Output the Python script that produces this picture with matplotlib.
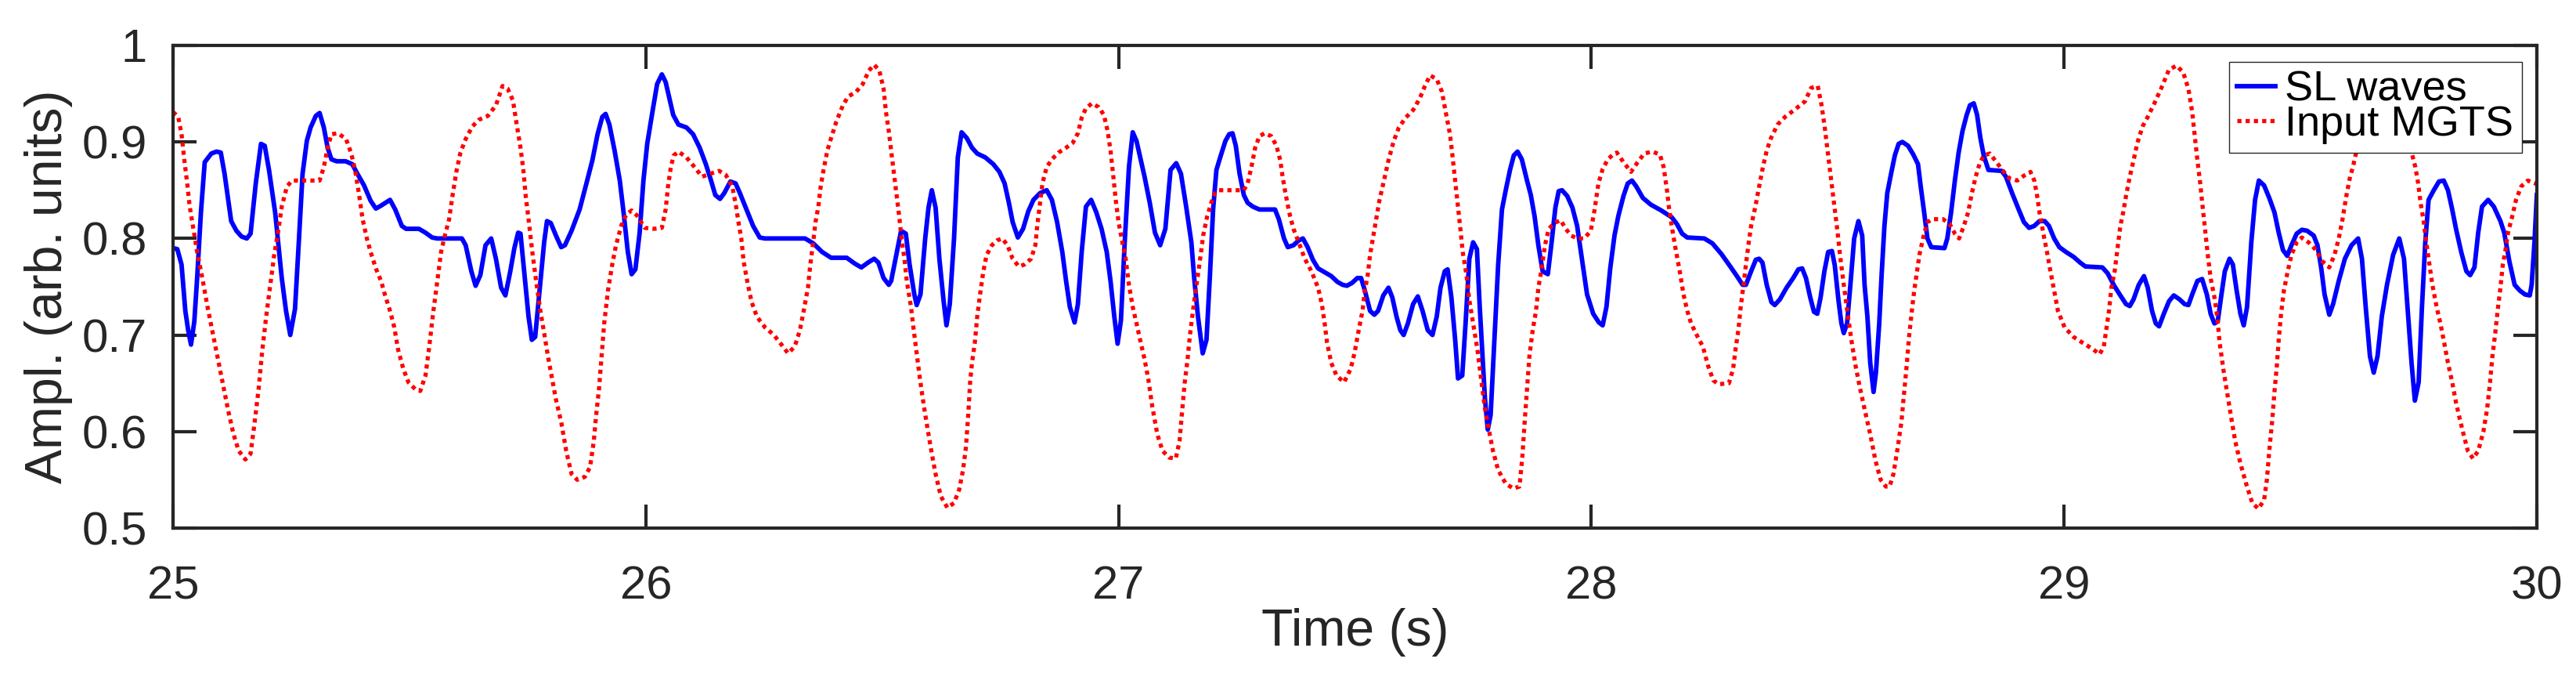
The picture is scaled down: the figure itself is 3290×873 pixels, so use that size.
import matplotlib
matplotlib.use("Agg")
import matplotlib.pyplot as plt

plt.rcParams['font.family'] = ['Liberation Sans', 'DejaVu Sans']

# SL waves (blue, solid)
sl_t = [25.000, 25.009, 25.018, 25.026, 25.032, 25.038, 25.045, 25.051, 25.059, 25.067,
        25.081, 25.092, 25.101, 25.109, 25.123, 25.134, 25.145, 25.156, 25.164, 25.175,
        25.186, 25.194, 25.203, 25.216, 25.230, 25.239, 25.248, 25.258, 25.266, 25.274,
        25.283, 25.291, 25.302, 25.310, 25.319, 25.327, 25.335, 25.346, 25.365, 25.379,
        25.390, 25.404, 25.418, 25.429, 25.440, 25.459, 25.470, 25.484, 25.493, 25.520,
        25.534, 25.548, 25.559, 25.611, 25.619, 25.631, 25.640, 25.650, 25.661, 25.673,
        25.683, 25.694, 25.703, 25.713, 25.722, 25.730, 25.735, 25.744, 25.752, 25.759,
        25.766, 25.774, 25.785, 25.791, 25.799, 25.810, 25.821, 25.829, 25.843, 25.860,
        25.876, 25.887, 25.898, 25.908, 25.915, 25.923, 25.934, 25.945, 25.953, 25.962,
        25.970, 25.978, 25.987, 25.995, 26.003, 26.014, 26.024, 26.034, 26.042, 26.050,
        26.058, 26.069, 26.086, 26.100, 26.114, 26.127, 26.138, 26.147, 26.157, 26.166,
        26.179, 26.190, 26.199, 26.213, 26.227, 26.241, 26.252, 26.337, 26.354, 26.373,
        26.392, 26.425, 26.442, 26.456, 26.470, 26.483, 26.492, 26.503, 26.514, 26.519,
        26.530, 26.540, 26.550, 26.558, 26.568, 26.573, 26.581, 26.591, 26.598, 26.605,
        26.613, 26.621, 26.630, 26.636, 26.643, 26.652, 26.660, 26.668, 26.679, 26.690,
        26.701, 26.718, 26.735, 26.748, 26.759, 26.768, 26.776, 26.787, 26.798, 26.809,
        26.820, 26.834, 26.848, 26.859, 26.870, 26.881, 26.889, 26.897, 26.907, 26.914,
        26.922, 26.931, 26.942, 26.953, 26.964, 26.975, 26.983, 26.991, 26.998, 27.005,
        27.013, 27.022, 27.030, 27.038, 27.055, 27.066, 27.077, 27.088, 27.099, 27.110,
        27.122, 27.132, 27.143, 27.154, 27.160, 27.168, 27.178, 27.186, 27.193, 27.200,
        27.207, 27.215, 27.226, 27.234, 27.241, 27.248, 27.256, 27.265, 27.273, 27.284,
        27.298, 27.331, 27.339, 27.350, 27.358, 27.370, 27.381, 27.390, 27.400, 27.411,
        27.422, 27.436, 27.450, 27.463, 27.474, 27.483, 27.494, 27.505, 27.513, 27.521,
        27.532, 27.541, 27.549, 27.560, 27.571, 27.579, 27.588, 27.596, 27.603, 27.612,
        27.623, 27.633, 27.643, 27.654, 27.664, 27.673, 27.681, 27.690, 27.696, 27.704,
        27.712, 27.718, 27.727, 27.734, 27.742, 27.750, 27.758, 27.764, 27.770, 27.775,
        27.781, 27.787, 27.795, 27.803, 27.811, 27.819, 27.828, 27.836, 27.844, 27.853,
        27.864, 27.872, 27.880, 27.888, 27.897, 27.908, 27.916, 27.924, 27.931, 27.938,
        27.949, 27.960, 27.970, 27.980, 27.991, 28.004, 28.016, 28.024, 28.032, 28.040,
        28.049, 28.057, 28.068, 28.077, 28.086, 28.095, 28.109, 28.126, 28.148, 28.170,
        28.181, 28.192, 28.203, 28.239, 28.256, 28.275, 28.291, 28.308, 28.320, 28.327,
        28.338, 28.348, 28.355, 28.362, 28.371, 28.381, 28.388, 28.399, 28.413, 28.427,
        28.438, 28.446, 28.454, 28.463, 28.471, 28.478, 28.485, 28.493, 28.501, 28.509,
        28.515, 28.523, 28.529, 28.534, 28.541, 28.548, 28.556, 28.565, 28.573, 28.578,
        28.584, 28.590, 28.597, 28.602, 28.609, 28.614, 28.620, 28.626, 28.634, 28.642,
        28.650, 28.658, 28.670, 28.681, 28.691, 28.697, 28.704, 28.711, 28.719, 28.747,
        28.753, 28.761, 28.769, 28.777, 28.785, 28.794, 28.801, 28.809, 28.816, 28.823,
        28.830, 28.840, 28.868, 28.877, 28.890, 28.904, 28.915, 28.926, 28.937, 28.948,
        28.959, 28.968, 28.979, 28.990, 29.004, 29.020, 29.034, 29.045, 29.081, 29.092,
        29.106, 29.119, 29.131, 29.139, 29.147, 29.158, 29.169, 29.177, 29.186, 29.194,
        29.201, 29.211, 29.222, 29.232, 29.244, 29.255, 29.263, 29.271, 29.282, 29.292,
        29.302, 29.310, 29.318, 29.325, 29.332, 29.340, 29.350, 29.357, 29.365, 29.373,
        29.380, 29.387, 29.396, 29.404, 29.412, 29.423, 29.434, 29.445, 29.454, 29.463,
        29.472, 29.481, 29.492, 29.503, 29.514, 29.528, 29.536, 29.544, 29.551, 29.561,
        29.569, 29.581, 29.594, 29.608, 29.622, 29.630, 29.638, 29.647, 29.655, 29.663,
        29.672, 29.683, 29.696, 29.709, 29.719, 29.727, 29.735, 29.742, 29.750, 29.757,
        29.764, 29.771, 29.782, 29.793, 29.803, 29.812, 29.821, 29.829, 29.840, 29.851,
        29.859, 29.868, 29.876, 29.884, 29.897, 29.909, 29.923, 29.931, 29.942, 29.953,
        29.964, 29.975, 29.985, 29.989, 29.995, 30.000]
sl_v = [0.790, 0.789, 0.773, 0.725, 0.705, 0.690, 0.714, 0.759, 0.827, 0.879,
        0.888, 0.890, 0.889, 0.867, 0.818, 0.808, 0.802, 0.800, 0.805, 0.857,
        0.898, 0.896, 0.871, 0.827, 0.759, 0.725, 0.700, 0.727, 0.796, 0.867,
        0.901, 0.915, 0.927, 0.930, 0.915, 0.894, 0.882, 0.880, 0.880, 0.877,
        0.867, 0.855, 0.839, 0.831, 0.834, 0.840, 0.830, 0.813, 0.810, 0.810,
        0.806, 0.801, 0.800, 0.800, 0.793, 0.766, 0.751, 0.762, 0.793, 0.800,
        0.779, 0.749, 0.741, 0.765, 0.790, 0.806, 0.805, 0.759, 0.719, 0.695,
        0.698, 0.739, 0.796, 0.818, 0.816, 0.803, 0.791, 0.793, 0.808, 0.830,
        0.860, 0.881, 0.908, 0.926, 0.929, 0.918, 0.891, 0.860, 0.827, 0.786,
        0.763, 0.768, 0.806, 0.860, 0.898, 0.931, 0.960, 0.970, 0.962, 0.945,
        0.928, 0.918, 0.915, 0.908, 0.894, 0.877, 0.860, 0.845, 0.841, 0.847,
        0.859, 0.857, 0.847, 0.830, 0.813, 0.801, 0.800, 0.800, 0.795, 0.786,
        0.780, 0.780, 0.774, 0.770, 0.775, 0.779, 0.775, 0.759, 0.752, 0.756,
        0.783, 0.808, 0.805, 0.773, 0.742, 0.731, 0.742, 0.800, 0.832, 0.850,
        0.832, 0.779, 0.735, 0.710, 0.732, 0.800, 0.884, 0.910, 0.904, 0.894,
        0.888, 0.884, 0.877, 0.869, 0.857, 0.837, 0.817, 0.801, 0.810, 0.828,
        0.840, 0.847, 0.850, 0.840, 0.817, 0.786, 0.756, 0.729, 0.713, 0.732,
        0.786, 0.833, 0.840, 0.827, 0.810, 0.786, 0.756, 0.719, 0.691, 0.715,
        0.796, 0.874, 0.910, 0.901, 0.864, 0.837, 0.806, 0.793, 0.810, 0.871,
        0.878, 0.867, 0.833, 0.796, 0.759, 0.719, 0.681, 0.695, 0.759, 0.830,
        0.871, 0.884, 0.901, 0.908, 0.909, 0.896, 0.867, 0.845, 0.837, 0.833,
        0.830, 0.830, 0.820, 0.800, 0.791, 0.793, 0.798, 0.800, 0.791, 0.778,
        0.769, 0.765, 0.761, 0.755, 0.752, 0.751, 0.754, 0.759, 0.759, 0.746,
        0.725, 0.721, 0.725, 0.741, 0.749, 0.739, 0.719, 0.705, 0.700, 0.712,
        0.732, 0.740, 0.725, 0.705, 0.700, 0.719, 0.749, 0.766, 0.768, 0.739,
        0.695, 0.655, 0.658, 0.712, 0.779, 0.796, 0.789, 0.729, 0.678, 0.634,
        0.602, 0.617, 0.695, 0.773, 0.830, 0.850, 0.871, 0.886, 0.890, 0.882,
        0.860, 0.845, 0.823, 0.793, 0.766, 0.763, 0.796, 0.832, 0.849, 0.850,
        0.844, 0.832, 0.813, 0.779, 0.742, 0.722, 0.713, 0.710, 0.729, 0.769,
        0.803, 0.823, 0.844, 0.857, 0.860, 0.854, 0.842, 0.835, 0.829, 0.822,
        0.815, 0.805, 0.801, 0.800, 0.795, 0.784, 0.773, 0.761, 0.752, 0.752,
        0.766, 0.778, 0.779, 0.775, 0.752, 0.734, 0.731, 0.737, 0.749, 0.759,
        0.768, 0.769, 0.759, 0.739, 0.724, 0.722, 0.739, 0.766, 0.786, 0.787,
        0.772, 0.735, 0.712, 0.702, 0.712, 0.752, 0.800, 0.818, 0.803, 0.752,
        0.719, 0.671, 0.641, 0.661, 0.712, 0.762, 0.813, 0.847, 0.867, 0.886,
        0.898, 0.900, 0.896, 0.887, 0.877, 0.853, 0.827, 0.800, 0.791, 0.790,
        0.800, 0.827, 0.860, 0.889, 0.911, 0.928, 0.938, 0.940, 0.928, 0.904,
        0.886, 0.871, 0.870, 0.864, 0.847, 0.830, 0.817, 0.811, 0.813, 0.818,
        0.818, 0.813, 0.800, 0.791, 0.786, 0.781, 0.775, 0.771, 0.770, 0.764,
        0.751, 0.741, 0.732, 0.730, 0.737, 0.752, 0.761, 0.749, 0.725, 0.712,
        0.709, 0.722, 0.735, 0.741, 0.737, 0.732, 0.731, 0.742, 0.756, 0.758,
        0.742, 0.722, 0.712, 0.714, 0.739, 0.766, 0.779, 0.773, 0.746, 0.722,
        0.710, 0.729, 0.796, 0.840, 0.860, 0.855, 0.842, 0.827, 0.806, 0.788,
        0.782, 0.793, 0.805, 0.809, 0.808, 0.803, 0.793, 0.769, 0.742, 0.721,
        0.732, 0.756, 0.779, 0.793, 0.800, 0.779, 0.729, 0.678, 0.661, 0.678,
        0.719, 0.752, 0.783, 0.800, 0.779, 0.725, 0.671, 0.632, 0.651, 0.729,
        0.796, 0.840, 0.850, 0.859, 0.860, 0.850, 0.830, 0.810, 0.786, 0.766,
        0.762, 0.770, 0.806, 0.833, 0.840, 0.833, 0.818, 0.806, 0.776, 0.752,
        0.746, 0.742, 0.741, 0.752, 0.796, 0.845]

# Input MGTS (red, dotted)
mg_t = [25.000, 25.011, 25.018, 25.024, 25.030, 25.035, 25.043, 25.051, 25.062, 25.073,
        25.084, 25.095, 25.106, 25.117, 25.128, 25.139, 25.153, 25.164, 25.172, 25.181,
        25.189, 25.197, 25.205, 25.214, 25.222, 25.230, 25.241, 25.252, 25.277, 25.310,
        25.319, 25.327, 25.335, 25.349, 25.366, 25.377, 25.385, 25.393, 25.401, 25.410,
        25.418, 25.429, 25.440, 25.448, 25.459, 25.468, 25.476, 25.487, 25.498, 25.512,
        25.523, 25.534, 25.542, 25.550, 25.559, 25.567, 25.575, 25.584, 25.592, 25.600,
        25.608, 25.619, 25.633, 25.647, 25.666, 25.683, 25.697, 25.708, 25.719, 25.727,
        25.735, 25.741, 25.746, 25.752, 25.760, 25.768, 25.777, 25.785, 25.793, 25.802,
        25.810, 25.821, 25.832, 25.843, 25.855, 25.871, 25.882, 25.890, 25.895, 25.901,
        25.907, 25.912, 25.920, 25.929, 25.937, 25.948, 25.959, 25.970, 25.981, 25.998,
        26.017, 26.034, 26.042, 26.047, 26.053, 26.059, 26.069, 26.086, 26.103, 26.119,
        26.136, 26.155, 26.169, 26.183, 26.191, 26.196, 26.202, 26.207, 26.216, 26.224,
        26.235, 26.252, 26.271, 26.287, 26.301, 26.315, 26.326, 26.334, 26.343, 26.348,
        26.354, 26.359, 26.365, 26.370, 26.376, 26.384, 26.392, 26.403, 26.417, 26.428,
        26.445, 26.459, 26.472, 26.483, 26.494, 26.503, 26.508, 26.514, 26.519, 26.525,
        26.530, 26.536, 26.541, 26.547, 26.552, 26.561, 26.566, 26.573, 26.580, 26.588,
        26.597, 26.605, 26.613, 26.624, 26.638, 26.652, 26.663, 26.671, 26.677, 26.682,
        26.686, 26.690, 26.696, 26.701, 26.707, 26.714, 26.721, 26.732, 26.743, 26.754,
        26.765, 26.776, 26.789, 26.801, 26.815, 26.824, 26.828, 26.834, 26.839, 26.848,
        26.859, 26.873, 26.889, 26.903, 26.914, 26.922, 26.931, 26.944, 26.958, 26.969,
        26.977, 26.983, 26.989, 26.994, 27.000, 27.008, 27.015, 27.022, 27.030, 27.038,
        27.047, 27.055, 27.063, 27.071, 27.082, 27.093, 27.107, 27.121, 27.129, 27.135,
        27.140, 27.146, 27.151, 27.160, 27.171, 27.179, 27.187, 27.196, 27.204, 27.212,
        27.265, 27.273, 27.281, 27.289, 27.298, 27.309, 27.323, 27.334, 27.342, 27.347,
        27.353, 27.361, 27.370, 27.381, 27.394, 27.408, 27.422, 27.430, 27.436, 27.441,
        27.450, 27.461, 27.477, 27.491, 27.499, 27.508, 27.516, 27.521, 27.527, 27.532,
        27.538, 27.545, 27.552, 27.560, 27.571, 27.582, 27.593, 27.607, 27.623, 27.637,
        27.648, 27.659, 27.673, 27.684, 27.692, 27.701, 27.706, 27.712, 27.717, 27.723,
        27.728, 27.736, 27.742, 27.750, 27.759, 27.767, 27.775, 27.784, 27.792, 27.803,
        27.819, 27.835, 27.848, 27.854, 27.859, 27.864, 27.869, 27.876, 27.883, 27.888,
        27.894, 27.902, 27.910, 27.922, 27.935, 27.946, 27.957, 27.971, 27.985, 27.999,
        28.007, 28.015, 28.024, 28.035, 28.046, 28.054, 28.068, 28.084, 28.098, 28.112,
        28.129, 28.145, 28.153, 28.160, 28.164, 28.170, 28.178, 28.187, 28.195, 28.203,
        28.211, 28.225, 28.236, 28.247, 28.258, 28.269, 28.291, 28.300, 28.305, 28.311,
        28.316, 28.322, 28.327, 28.333, 28.338, 28.347, 28.355, 28.363, 28.371, 28.380,
        28.394, 28.410, 28.429, 28.452, 28.465, 28.479, 28.487, 28.493, 28.498, 28.504,
        28.509, 28.515, 28.521, 28.526, 28.534, 28.543, 28.551, 28.559, 28.567, 28.579,
        28.590, 28.601, 28.612, 28.623, 28.631, 28.639, 28.647, 28.656, 28.661, 28.667,
        28.672, 28.678, 28.683, 28.689, 28.694, 28.703, 28.711, 28.722, 28.744, 28.758,
        28.769, 28.778, 28.788, 28.797, 28.805, 28.813, 28.821, 28.830, 28.843, 28.857,
        28.871, 28.885, 28.901, 28.915, 28.929, 28.937, 28.943, 28.948, 28.957, 28.965,
        28.970, 28.979, 28.987, 29.001, 29.020, 29.039, 29.062, 29.075, 29.084, 29.089,
        29.095, 29.100, 29.107, 29.114, 29.119, 29.125, 29.131, 29.139, 29.147, 29.155,
        29.166, 29.177, 29.191, 29.205, 29.222, 29.238, 29.252, 29.263, 29.271, 29.277,
        29.282, 29.288, 29.293, 29.299, 29.304, 29.310, 29.318, 29.324, 29.329, 29.338,
        29.346, 29.354, 29.362, 29.373, 29.385, 29.398, 29.411, 29.423, 29.429, 29.434,
        29.440, 29.445, 29.450, 29.454, 29.459, 29.465, 29.473, 29.481, 29.492, 29.503,
        29.517, 29.531, 29.547, 29.561, 29.572, 29.581, 29.589, 29.597, 29.605, 29.611,
        29.625, 29.645, 29.670, 29.695, 29.715, 29.732, 29.743, 29.749, 29.754, 29.760,
        29.765, 29.771, 29.779, 29.788, 29.796, 29.804, 29.812, 29.821, 29.829, 29.837,
        29.845, 29.854, 29.865, 29.876, 29.887, 29.895, 29.901, 29.906, 29.912, 29.917,
        29.923, 29.928, 29.934, 29.939, 29.948, 29.956, 29.967, 29.981, 29.997, 30.000]
mg_v = [0.931, 0.926, 0.908, 0.881, 0.857, 0.834, 0.810, 0.786, 0.759, 0.729,
        0.702, 0.675, 0.648, 0.621, 0.597, 0.580, 0.571, 0.577, 0.607, 0.644,
        0.685, 0.719, 0.749, 0.783, 0.806, 0.833, 0.854, 0.860, 0.860, 0.860,
        0.874, 0.894, 0.908, 0.909, 0.903, 0.888, 0.871, 0.847, 0.820, 0.800,
        0.786, 0.769, 0.756, 0.742, 0.725, 0.708, 0.685, 0.665, 0.651, 0.644,
        0.642, 0.658, 0.688, 0.722, 0.756, 0.786, 0.803, 0.820, 0.847, 0.871,
        0.889, 0.903, 0.916, 0.923, 0.927, 0.938, 0.958, 0.955, 0.943, 0.918,
        0.894, 0.871, 0.844, 0.820, 0.786, 0.756, 0.725, 0.702, 0.678, 0.654,
        0.633, 0.610, 0.579, 0.556, 0.550, 0.553, 0.563, 0.590, 0.617, 0.644,
        0.681, 0.712, 0.746, 0.773, 0.793, 0.813, 0.825, 0.829, 0.824, 0.811,
        0.810, 0.811, 0.830, 0.854, 0.874, 0.886, 0.890, 0.884, 0.874, 0.864,
        0.867, 0.870, 0.866, 0.854, 0.833, 0.817, 0.800, 0.776, 0.752, 0.734,
        0.719, 0.708, 0.700, 0.690, 0.681, 0.688, 0.705, 0.725, 0.749, 0.773,
        0.796, 0.817, 0.833, 0.854, 0.871, 0.891, 0.904, 0.921, 0.938, 0.947,
        0.952, 0.960, 0.974, 0.980, 0.974, 0.955, 0.931, 0.911, 0.891, 0.867,
        0.847, 0.823, 0.800, 0.779, 0.756, 0.729, 0.708, 0.681, 0.654, 0.627,
        0.600, 0.577, 0.556, 0.533, 0.521, 0.526, 0.540, 0.560, 0.583, 0.617,
        0.651, 0.671, 0.692, 0.719, 0.742, 0.766, 0.783, 0.793, 0.798, 0.800,
        0.793, 0.779, 0.771, 0.773, 0.779, 0.793, 0.813, 0.837, 0.857, 0.874,
        0.882, 0.889, 0.894, 0.899, 0.909, 0.925, 0.935, 0.940, 0.936, 0.928,
        0.911, 0.891, 0.864, 0.840, 0.817, 0.796, 0.779, 0.752, 0.729, 0.712,
        0.692, 0.675, 0.654, 0.627, 0.597, 0.580, 0.573, 0.572, 0.590, 0.624,
        0.651, 0.675, 0.700, 0.735, 0.773, 0.803, 0.822, 0.837, 0.847, 0.850,
        0.850, 0.857, 0.874, 0.894, 0.906, 0.909, 0.906, 0.896, 0.881, 0.864,
        0.847, 0.827, 0.810, 0.796, 0.779, 0.766, 0.749, 0.732, 0.712, 0.692,
        0.671, 0.658, 0.651, 0.665, 0.681, 0.705, 0.725, 0.746, 0.762, 0.783,
        0.800, 0.820, 0.840, 0.857, 0.881, 0.901, 0.915, 0.925, 0.933, 0.945,
        0.958, 0.969, 0.965, 0.952, 0.931, 0.908, 0.887, 0.860, 0.837, 0.810,
        0.786, 0.762, 0.736, 0.712, 0.685, 0.654, 0.624, 0.600, 0.580, 0.560,
        0.546, 0.541, 0.543, 0.573, 0.610, 0.644, 0.678, 0.705, 0.725, 0.749,
        0.766, 0.793, 0.810, 0.816, 0.819, 0.810, 0.803, 0.800, 0.800, 0.808,
        0.830, 0.857, 0.872, 0.882, 0.887, 0.889, 0.879, 0.869, 0.879, 0.888,
        0.890, 0.887, 0.874, 0.850, 0.833, 0.813, 0.790, 0.766, 0.742, 0.725,
        0.712, 0.698, 0.688, 0.668, 0.653, 0.649, 0.650, 0.665, 0.685, 0.705,
        0.729, 0.752, 0.773, 0.796, 0.813, 0.833, 0.854, 0.874, 0.891, 0.904,
        0.918, 0.926, 0.933, 0.942, 0.956, 0.958, 0.938, 0.918, 0.898, 0.874,
        0.854, 0.830, 0.806, 0.783, 0.752, 0.719, 0.692, 0.668, 0.648, 0.621,
        0.597, 0.570, 0.550, 0.543, 0.543, 0.556, 0.580, 0.610, 0.637, 0.668,
        0.698, 0.725, 0.746, 0.766, 0.783, 0.803, 0.817, 0.820, 0.820, 0.815,
        0.805, 0.800, 0.813, 0.827, 0.847, 0.864, 0.877, 0.886, 0.888, 0.879,
        0.870, 0.862, 0.860, 0.865, 0.869, 0.860, 0.844, 0.827, 0.803, 0.783,
        0.769, 0.746, 0.725, 0.708, 0.698, 0.692, 0.685, 0.680, 0.688, 0.705,
        0.725, 0.749, 0.766, 0.793, 0.813, 0.827, 0.844, 0.864, 0.881, 0.899,
        0.916, 0.926, 0.940, 0.955, 0.975, 0.979, 0.972, 0.955, 0.931, 0.904,
        0.881, 0.857, 0.833, 0.806, 0.783, 0.759, 0.739, 0.719, 0.692, 0.661,
        0.637, 0.613, 0.590, 0.567, 0.546, 0.526, 0.520, 0.529, 0.550, 0.580,
        0.610, 0.641, 0.668, 0.695, 0.722, 0.746, 0.766, 0.783, 0.796, 0.801,
        0.796, 0.789, 0.776, 0.770, 0.783, 0.800, 0.820, 0.844, 0.864, 0.874,
        0.905, 0.935, 0.962, 0.960, 0.935, 0.895, 0.874, 0.857, 0.837, 0.820,
        0.800, 0.779, 0.752, 0.729, 0.712, 0.692, 0.671, 0.651, 0.630, 0.613,
        0.597, 0.580, 0.572, 0.580, 0.600, 0.624, 0.651, 0.678, 0.702, 0.725,
        0.749, 0.773, 0.789, 0.806, 0.823, 0.840, 0.854, 0.860, 0.857, 0.856]

x_ticks = [25, 26, 27, 28, 29, 30]
x_labels = ['25', '26', '27', '28', '29', '30']
y_ticks = [0.5, 0.6, 0.7, 0.8, 0.9, 1.0]
y_labels = ['0.5', '0.6', '0.7', '0.8', '0.9', '1']

dark = (0.15, 0.15, 0.15)

fig = plt.figure(figsize=(32.91, 8.73), dpi=100)
ax = fig.add_axes([0.06715, 0.2280, 0.91735, 0.7056])

ax.plot(sl_t, sl_v, color=(0, 0, 1), linewidth=4.2, label='SL waves')
ax.plot(mg_t, mg_v, color=(1, 0, 0), linewidth=3.8, linestyle=(0, (1.0, 1.0)),
        label='Input MGTS')

ax.set_xlim(25, 30)
ax.set_ylim(0.5, 1.0)
ax.set_xticks(x_ticks)
ax.set_xticklabels(x_labels)
ax.set_yticks(y_ticks)
ax.set_yticklabels(y_labels)

for s in ax.spines.values():
    s.set_linewidth(3.0)
    s.set_color(dark)
ax.tick_params(direction='in', length=21.6, width=3.0, top=True, right=True,
               labelsize=43, colors=dark)
ax.tick_params(axis='x', pad=34)
ax.tick_params(axis='y', pad=24)

ax.set_xlabel('Time (s)', fontsize=47.5, color=dark, va='center')
ax.xaxis.set_label_coords(0.5, -0.2159)
ax.set_ylabel('Ampl. (arb. units)', fontsize=47.5, color=dark, va='center', ha='center')
ax.yaxis.set_label_coords(-0.0527, 0.5)

leg = ax.legend(loc='upper right', bbox_to_anchor=(0.9937, 0.9659), borderaxespad=0,
                fontsize=39, handlelength=0.9, handletextpad=0.22, borderpad=0.2,
                labelspacing=-0.1, fancybox=False, framealpha=1.0)
leg.get_frame().set_edgecolor(dark)
leg.get_frame().set_linewidth(1.0)

fig.savefig('out.png', dpi=100)
